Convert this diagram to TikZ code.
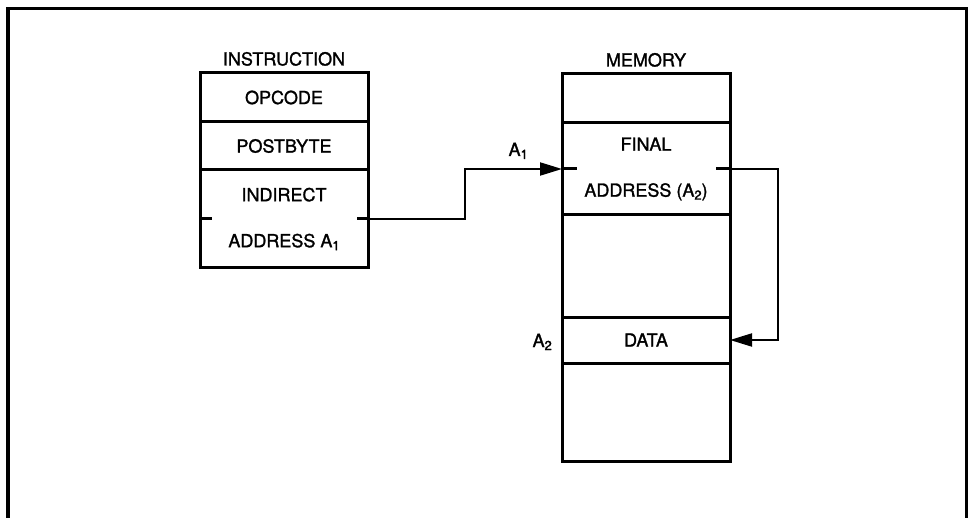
\documentclass[tikz,border=0pt]{standalone}
\usepackage{fontspec}
\setsansfont{TeX Gyre Heros}[FakeBold=1.4]
\usetikzlibrary{positioning,arrows.meta}
\tikzset{%
		zelle/.style={draw,line width=3pt,minimum width=168pt,inner sep=0pt,outer sep=0pt,align=center,font=\sffamily\fontsize{18}{46}\selectfont},
		titel/.style={inner sep=0pt,font=\sffamily\fontsize{18}{20}\selectfont},
		pfeil/.style={draw,line width=2pt,-{Triangle[length=22pt,width=13pt]}},
		marke/.style={draw,line width=3pt}
	}
\newcommand{\idx}[1]{\raisebox{-3pt}{\fontsize{13}{14}\selectfont #1}}

\begin{document}
\begin{tikzpicture}[x=1pt,y=-1pt]
      \useasboundingbox (0,0) rectangle (968,518);
      % rahmen
      \draw[line width=3.5pt] (8,518) -- (8,8.5) -- (967,8.5) -- (967,518);

      % befehl
      \node[zelle,minimum height=49pt,anchor=north] (opcode) at (284,73) {OPCODE};
      \node[zelle,minimum height=48pt,below=0pt of opcode] (postbyte) {POSTBYTE};
      \node[zelle,minimum height=98pt,below=0pt of postbyte] (indirect) {INDIRECT\\ADDRESS A\idx{1}};
      \node[titel,above=7pt of opcode] (befehl) {INSTRUCTION};
      \draw[marke] (indirect.west) -- ++(12,0) ;
      \draw[marke] (indirect.east) -- ++(-11,0) ;

      % speicher
      \node[zelle,minimum height=49pt,anchor=north] (zeile1) at (646,74) {};
      \node[zelle,minimum height=92pt,below=0pt of zeile1] (final) {FINAL\\ADDRESS (A\idx{2})};
      \node[zelle,minimum height=102pt,below=0pt of final] (zeile3) {};
      \node[zelle,minimum height=46pt,below=0pt of zeile3] (data) {DATA};
      \node[zelle,minimum height=98pt,below=0pt of data] (zeile5) {};
      \node[titel,above=7pt of zeile1] (speicher) {MEMORY};
      \draw[marke] (final.west) -- ++(15,0) ;
      \draw[marke] (final.east) -- ++(-14,0) ;

      % adressen
      \node[titel,anchor=base east] (aeins) at ([xshift=-34pt,yshift=13pt]final.west) {A\idx{1}};
      \node[titel,anchor=base east] (azwei) at ([xshift=-10pt,yshift=-7pt]data.west) {A\idx{2}};

      \draw[pfeil] (indirect.east) -- ++(97,0) |- (final.west) ;
      \draw[pfeil] (final.east) -- ++(48,0) |- (data.east) ;
	\end{tikzpicture}
\end{document}
